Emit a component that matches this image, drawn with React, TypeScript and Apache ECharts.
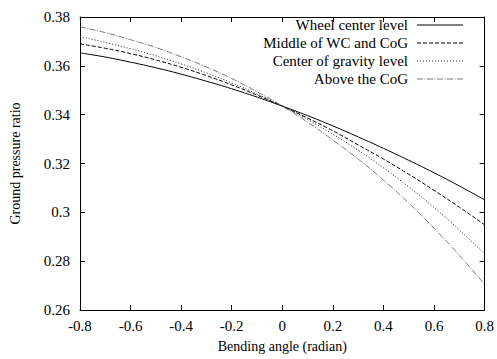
import React, { useEffect, useRef } from "react";
import * as echarts from "echarts";

const xs = [-0.8, -0.7, -0.6, -0.5, -0.4, -0.3, -0.2, -0.1, 0, 0.1, 0.2, 0.3, 0.4, 0.5, 0.6, 0.7, 0.8];
const wheelCenter = [0.3653, 0.3636, 0.3615, 0.3592, 0.3566, 0.3537, 0.3506, 0.3472, 0.3435, 0.3396, 0.3354, 0.3309, 0.3262, 0.3213, 0.3162, 0.3108, 0.3051];
const middleWcCog = [0.369, 0.3672, 0.365, 0.3624, 0.3594, 0.356, 0.3522, 0.348, 0.3435, 0.3386, 0.3334, 0.3276, 0.3218, 0.3156, 0.309, 0.3021, 0.2949];
const cogLevel = [0.372, 0.3696, 0.367, 0.3641, 0.3608, 0.3571, 0.353, 0.3485, 0.3435, 0.338, 0.332, 0.3254, 0.3182, 0.3104, 0.302, 0.2928, 0.283];
const aboveCog = [0.376, 0.3736, 0.3707, 0.3675, 0.3637, 0.3595, 0.3548, 0.3494, 0.3435, 0.3369, 0.3296, 0.3218, 0.3132, 0.3038, 0.2935, 0.2824, 0.2705];
const seriesNames = ["Wheel center level", "Middle of WC and CoG", "Center of gravity level", "Above the CoG"];

const FONT = "Liberation Serif";

export default function App() {
  const ref = useRef<HTMLDivElement>(null);
  useEffect(() => {
    if (!ref.current) return;
    const chart = echarts.init(ref.current, null, { renderer: "svg" });
    const styles = [
      { color: "#000", width: 1, type: "solid" as any },
      { color: "#000", width: 1, type: [4, 2] as any },
      { color: "#222", width: 1, type: [1, 2] as any },
      { color: "#555", width: 0.8, type: [6, 1.5, 1, 1.5] as any },
    ];
    const datas = [wheelCenter, middleWcCog, cogLevel, aboveCog];
    const series = datas.map((d, i) => ({
      type: "line",
      name: seriesNames[i],
      data: xs.map((x, j) => [x, d[j]]),
      showSymbol: false,
      smooth: true,
      lineStyle: styles[i],
      xAxisIndex: 0,
      yAxisIndex: 0,
    }));
    const legendX1 = 417, legendX2 = 463, textX = 408;
    const rowsY = [25, 43, 61, 79];
    const graphic: any[] = [];
    seriesNames.forEach((n, i) => {
      graphic.push({
        type: "text",
        x: textX,
        y: rowsY[i],
        style: { text: n, font: `15px "${FONT}"`, fill: "#000", textAlign: "right", textVerticalAlign: "middle" },
      });
      graphic.push({
        type: "line",
        shape: { x1: legendX1, y1: rowsY[i], x2: legendX2, y2: rowsY[i] },
        style: {
          stroke: styles[i].color,
          lineWidth: styles[i].width,
          lineDash: Array.isArray(styles[i].type) ? styles[i].type : null,
        },
      });
    });
    const baseAxisLine = { show: true, onZero: false, lineStyle: { color: "#000", width: 1 } };
    const tick = { show: true, inside: true, length: 5, lineStyle: { color: "#000" } };
    chart.setOption({
      animation: false,
      grid: { left: 80, right: 12, top: 17, bottom: 49 },
      xAxis: [
        {
          type: "value",
          min: -0.8,
          max: 0.8,
          interval: 0.2,
          axisLine: baseAxisLine,
          axisTick: tick,
          splitLine: { show: false },
          axisLabel: { color: "#000", fontFamily: FONT, fontSize: 15, margin: 8 },
          name: "Bending angle (radian)",
          nameLocation: "middle",
          nameGap: 29,
          nameTextStyle: { color: "#000", fontFamily: FONT, fontSize: 14 },
        },
        {
          type: "value",
          position: "top",
          min: -0.8,
          max: 0.8,
          interval: 0.2,
          axisLine: baseAxisLine,
          axisTick: tick,
          splitLine: { show: false },
          axisLabel: { show: false },
        },
      ],
      yAxis: [
        {
          type: "value",
          min: 0.26,
          max: 0.38,
          interval: 0.02,
          axisLine: baseAxisLine,
          axisTick: tick,
          splitLine: { show: false },
          axisLabel: { color: "#000", fontFamily: FONT, fontSize: 15, margin: 10 },
          name: "Ground pressure ratio",
          nameLocation: "middle",
          nameGap: 58,
          nameTextStyle: { color: "#000", fontFamily: FONT, fontSize: 14 },
        },
        {
          type: "value",
          position: "right",
          min: 0.26,
          max: 0.38,
          interval: 0.02,
          axisLine: baseAxisLine,
          axisTick: tick,
          splitLine: { show: false },
          axisLabel: { show: false },
        },
      ],
      series,
      graphic,
    });
    return () => chart.dispose();
  }, []);
  return <div ref={ref} style={{ width: 497, height: 359, position: "absolute", left: 0, top: 0, background: "#fff" }} />;
}
